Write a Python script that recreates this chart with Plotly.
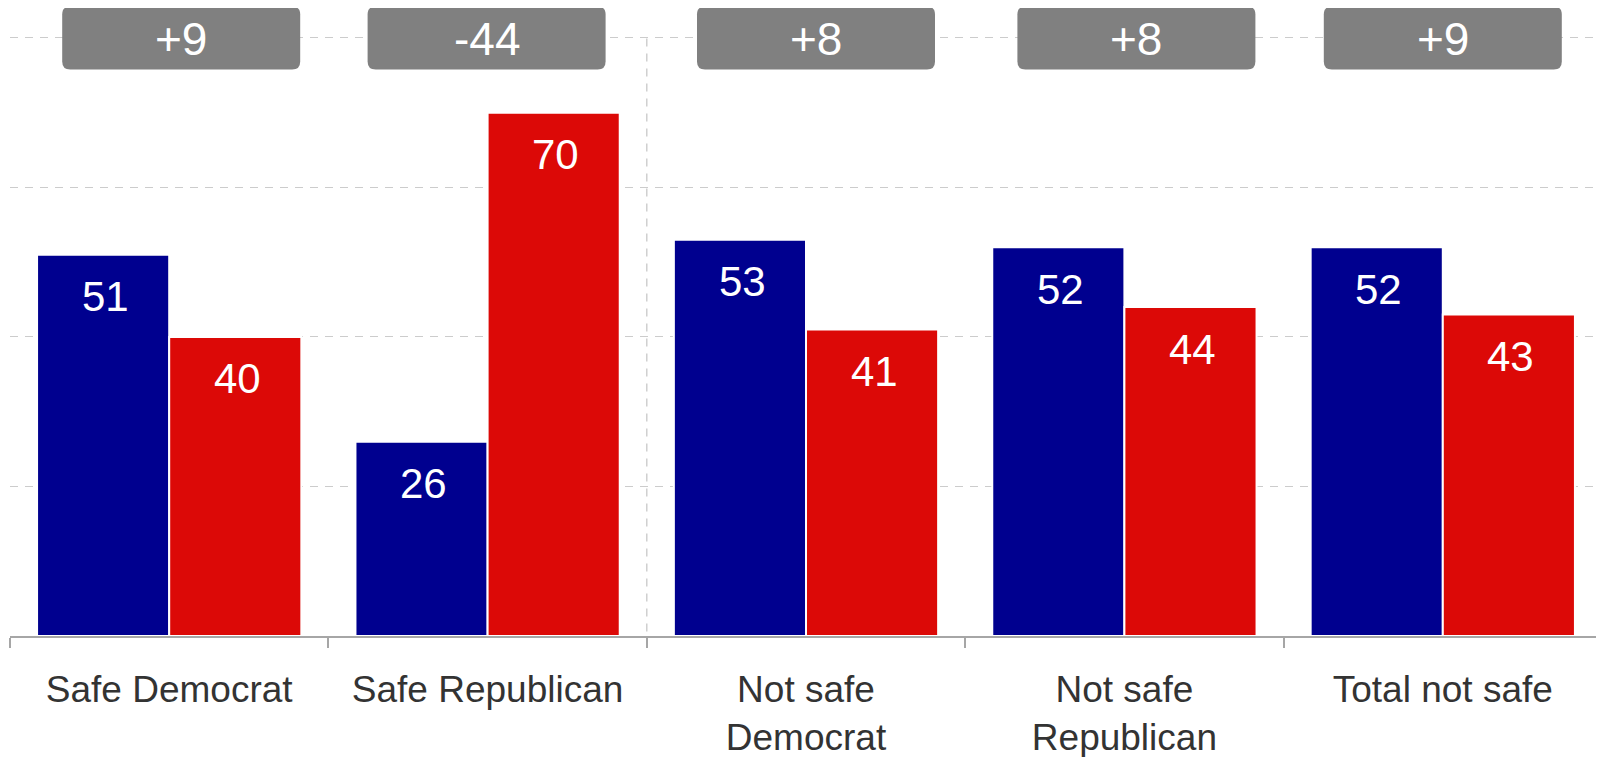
import plotly.graph_objects as go

categories = ["Safe Democrat", "Safe Republican", "Not safe<br>Democrat", "Not safe<br>Republican", "Total not safe"]
dem_values = [51, 26, 53, 52, 52]
rep_values = [40, 70, 41, 44, 43]
diff_labels = ["+9", "-44", "+8", "+8", "+9"]
box_shift = [12, -1, 10, 12, 0]  # px offsets of the label boxes (style)

BLUE = "#00008f"
RED = "#dc0907"
GRAY_BOX = "#808080"
FONT = "Arial, Liberation Sans, sans-serif"

fig = go.Figure()
fig.add_trace(go.Bar(x=categories, y=dem_values, name="Democrat",
                     marker=dict(color=BLUE, line=dict(color="white", width=2))))
fig.add_trace(go.Bar(x=categories, y=rep_values, name="Republican",
                     marker=dict(color=RED, line=dict(color="white", width=2))))

annotations = []
bar_off = 66
label_shift = -42
for i, cat in enumerate(categories):
    annotations.append(dict(x=cat, y=dem_values[i], xref="x", yref="y", text=str(dem_values[i]),
                            showarrow=False, xshift=-bar_off + 2, yshift=label_shift, yanchor="middle",
                            font=dict(family=FONT, size=42, color="white")))
    annotations.append(dict(x=cat, y=rep_values[i], xref="x", yref="y", text=str(rep_values[i]),
                            showarrow=False, xshift=bar_off + 2, yshift=label_shift, yanchor="middle",
                            font=dict(family=FONT, size=42, color="white")))
    annotations.append(dict(x=cat, y=80, xref="x", yref="y", text=diff_labels[i],
                            showarrow=False, xshift=box_shift[i], yshift=-1, yanchor="middle",
                            font=dict(family=FONT, size=46, color="white")))

W, H, R = 119, 31.5, 8
def rrect(cx):
    x0, x1, y0, y1 = cx - W, cx + W, -H, H
    return (f"M {x0+R},{y0} L {x1-R},{y0} Q {x1},{y0} {x1},{y0+R} L {x1},{y1-R} "
            f"Q {x1},{y1} {x1-R},{y1} L {x0+R},{y1} Q {x0},{y1} {x0},{y1-R} "
            f"L {x0},{y0+R} Q {x0},{y0} {x0+R},{y0} Z")

shapes = []
for i in range(len(categories)):
    shapes.append(dict(type="path", xref="x", yref="y", xsizemode="pixel", ysizemode="pixel",
                       xanchor=i, yanchor=80, path=rrect(box_shift[i]),
                       fillcolor=GRAY_BOX, line=dict(width=0), layer="above"))
shapes.append(dict(type="line", xref="x", yref="y", x0=1.5, x1=1.5, y0=-1.4, y1=80.7,
                   line=dict(color="#c8c8c8", width=1.3, dash="8px,7px"), layer="below"))

# the page body has an 8px margin, so the figure is sized to fit the window
fig.update_layout(
    width=1596, height=749, autosize=False,
    margin=dict(l=2, r=2, t=0, b=121, pad=0, autoexpand=False),
    paper_bgcolor="white", plot_bgcolor="white",
    barmode="group", bargap=0.17, bargroupgap=0,
    showlegend=False,
    annotations=annotations, shapes=shapes,
    font=dict(family=FONT),
    xaxis=dict(type="category", showline=True, linecolor="#a6a6a6", linewidth=1.5,
               ticks="outside", tickson="boundaries", ticklen=10, tickcolor="#a6a6a6", tickwidth=1.5,
               tickfont=dict(family=FONT, size=37, color="#333333"), ticklabelstandoff=20,
               showgrid=False, range=[-0.5, 4.5], automargin=False),
    yaxis=dict(range=[0, 84.01], tickvals=[20, 40, 60, 80], showticklabels=False,
               showgrid=True, gridcolor="#cccccc", gridwidth=1.2, griddash="8px,7px",
               zeroline=False, showline=False, ticks="", automargin=False),
)

fig.write_html("out.html")
